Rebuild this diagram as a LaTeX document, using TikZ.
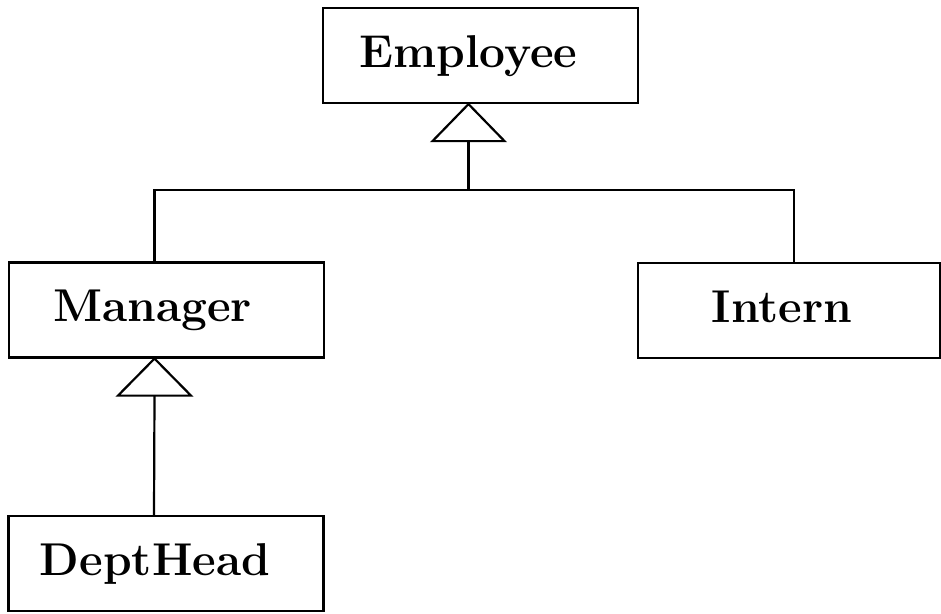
\documentclass[tikz,border=0pt]{standalone}
\usepackage{fontspec}
\tikzset{
  classbox/.style={draw, line width=2.2pt, minimum width=315pt, minimum height=95pt,
    inner sep=0pt, text height=32pt, text depth=9pt,
    font=\fontsize{46}{52}\selectfont\bfseries},
  uml/.style={line width=2.2pt},
}
\begin{document}
\begin{tikzpicture}[x=1pt,y=-1pt]
    \useasboundingbox (0,0) rectangle (941,613);
    % classes
    \node[classbox] (employee) at (480.5,55.5) {Employee\kern24pt};
    \node[classbox] (manager) at (166.5,310) {Manager\kern28pt};
    \node[classbox, minimum width=302pt] (intern) at (789,310.5) {Intern\kern14pt};
    \node[classbox] (depthead) at (166,563.5) {DeptHead\kern22pt};
    % generalisation triangles
    \draw[uml] ([xshift=-12pt]employee.south) -- ++(-36,37) -- ++(72,0) -- cycle;
    \draw[uml] ([xshift=-12pt]manager.south) -- ++(-36.5,37) -- ++(73,0) -- cycle;
    \coordinate (empfoot) at ([xshift=-12pt,yshift=-37pt]employee.south);
    \coordinate (split) at ([xshift=-12pt,yshift=-86pt]employee.south);
    \coordinate (manfoot) at ([xshift=-12pt,yshift=-37pt]manager.south);
    % connectors
    \draw[uml] (empfoot) -- (split);
    \draw[uml] ([xshift=-12pt]manager.north) |- (split) -| ([xshift=5pt]intern.north);
    \draw[uml] (manfoot) -- ([xshift=-12pt]depthead.north);
\end{tikzpicture}
\end{document}
